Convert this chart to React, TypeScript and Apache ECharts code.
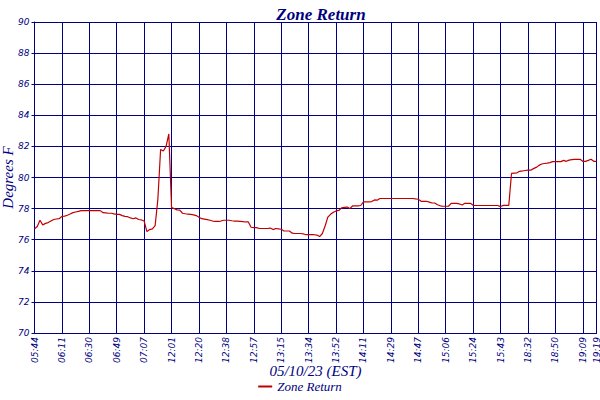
import React, { useEffect, useRef } from 'react'
import * as echarts from 'echarts'

// tick labels, one every 10 samples plus the last sample
const tickLabels = [
    '05:44', '06:11', '06:30', '06:49', '07:07', '12:01', '12:20', '12:38', '12:57', '13:15', '13:34',
    '13:52', '14:11', '14:29', '14:47', '15:06', '15:24', '15:43', '18:32', '18:50', '19:09',
]
const lastLabel = '19:19'

// zone return temperature, degrees F
const zoneReturn = [
    76.7, 76.85, 77.25, 76.95, 77.05, 77.1, 77.2, 77.3, 77.33, 77.35,
    77.5, 77.52, 77.57, 77.65, 77.74, 77.78, 77.82, 77.87, 77.87, 77.87,
    77.87, 77.87, 77.87, 77.87, 77.87, 77.74, 77.72, 77.7, 77.7, 77.66,
    77.63, 77.63, 77.55, 77.5, 77.48, 77.4, 77.35, 77.4, 77.3, 77.27,
    77.2, 76.52, 76.65, 76.7, 76.9, 78.6, 81.8, 81.7, 82.0, 82.8,
    78.06, 78.0, 77.92, 77.9, 77.7, 77.67, 77.65, 77.63, 77.6, 77.55,
    77.45, 77.35, 77.32, 77.29, 77.25, 77.2, 77.18, 77.18, 77.2, 77.25,
    77.25, 77.25, 77.22, 77.2, 77.2, 77.18, 77.16, 77.14, 77.14, 76.8,
    76.78, 76.78, 76.72, 76.72, 76.72, 76.72, 76.75, 76.65, 76.72, 76.7,
    76.67, 76.56, 76.56, 76.56, 76.42, 76.4, 76.4, 76.4, 76.38, 76.32,
    76.32, 76.32, 76.32, 76.3, 76.2, 76.4, 76.88, 77.45, 77.63, 77.76,
    77.85, 77.88, 78.05, 78.08, 78.1, 78.0, 78.17, 78.17, 78.17, 78.2,
    78.43, 78.43, 78.43, 78.45, 78.56, 78.54, 78.65, 78.65, 78.65, 78.65,
    78.65, 78.65, 78.65, 78.65, 78.65, 78.65, 78.65, 78.65, 78.65, 78.62,
    78.6, 78.47, 78.47, 78.47, 78.42, 78.36, 78.36, 78.25, 78.18, 78.15,
    78.15, 78.15, 78.34, 78.34, 78.34, 78.3, 78.23, 78.34, 78.34, 78.34,
    78.21, 78.2, 78.2, 78.2, 78.2, 78.2, 78.2, 78.2, 78.2, 78.2,
    78.13, 78.21, 78.21, 78.21, 80.26, 80.28, 80.3, 80.4, 80.42, 80.45,
    80.47, 80.47, 80.57, 80.65, 80.78, 80.87, 80.9, 80.92, 80.96, 81.02,
    81.02, 81.02, 81.02, 81.1, 81.04, 81.12, 81.15, 81.17, 81.17, 81.17,
    81.04, 81.04, 81.1, 81.17, 81.04, 81.04,
]

const NAVY = '#000080'
const LABEL_STEP = 10

const App: React.FC = () => {
    const chartRef = useRef<HTMLDivElement | null>(null)

    useEffect(() => {
        if (!chartRef.current) return
        const chart = echarts.init(chartRef.current, undefined, { renderer: 'svg' })

        const last = zoneReturn.length - 1
        const categories = zoneReturn.map((_, i) => {
            if (i === last) return lastLabel
            if (i % LABEL_STEP === 0) return tickLabels[i / LABEL_STEP]
            return 's' + i
        })
        const shown = (i: number) => i % LABEL_STEP === 0 || i === last

        chart.setOption({
            animation: false,
            title: {
                text: 'Zone Return',
                left: 316,
                top: 1,
                textAlign: 'center',
                textStyle: {
                    fontFamily: 'Liberation Serif',
                    fontStyle: 'italic',
                    fontWeight: 'bold',
                    fontSize: 17,
                    color: NAVY,
                },
            },
            legend: {
                bottom: 2,
                left: 'center',
                itemWidth: 14,
                itemHeight: 2,
                icon: 'rect',
                textStyle: {
                    fontFamily: 'Liberation Serif',
                    fontStyle: 'italic',
                    fontSize: 13,
                    color: NAVY,
                },
                data: ['Zone Return'],
            },
            grid: {
                left: 34.5,
                right: 3.5,
                top: 22,
                bottom: 67,
                containLabel: false,
                outerBoundsMode: 'none',
            },
            xAxis: {
                type: 'category',
                boundaryGap: false,
                data: categories,
                name: '05/10/23 (EST)',
                nameLocation: 'middle',
                nameGap: 30,
                nameMoveOverlap: false,
                nameTextStyle: {
                    fontFamily: 'Liberation Serif',
                    fontStyle: 'italic',
                    fontSize: 15,
                    color: NAVY,
                },
                axisLine: { lineStyle: { color: NAVY, width: 1 } },
                axisTick: { show: false },
                axisLabel: {
                    interval: (i: number) => shown(i),
                    rotate: 90,
                    margin: 4,
                    hideOverlap: false,
                    fontFamily: 'DejaVu Sans',
                    fontStyle: 'italic',
                    fontSize: 9,
                    color: NAVY,
                },
                splitLine: {
                    show: true,
                    interval: (i: number) => shown(i),
                    lineStyle: { color: NAVY, width: 1 },
                },
            },
            yAxis: {
                type: 'value',
                min: 70,
                max: 90,
                interval: 2,
                name: 'Degrees F',
                nameLocation: 'middle',
                nameGap: 19,
                nameMoveOverlap: false,
                nameTextStyle: {
                    fontFamily: 'Liberation Serif',
                    fontStyle: 'italic',
                    fontSize: 15,
                    color: NAVY,
                },
                axisLine: { show: true, lineStyle: { color: NAVY, width: 1 } },
                axisTick: { show: true, length: 3, lineStyle: { color: NAVY } },
                axisLabel: {
                    margin: 5,
                    fontFamily: 'DejaVu Sans',
                    fontStyle: 'italic',
                    fontSize: 9,
                    color: NAVY,
                },
                splitLine: { lineStyle: { color: NAVY, width: 1 } },
            },
            series: [
                {
                    name: 'Zone Return',
                    type: 'line',
                    data: zoneReturn,
                    showSymbol: false,
                    symbol: 'none',
                    itemStyle: { color: '#c00000' },
                    lineStyle: { color: '#c00000', width: 1.2 },
                },
            ],
        })

        return () => {
            chart.dispose()
        }
    }, [])

    return (
        <div
            ref={chartRef}
            style={{ position: 'fixed', left: 0, top: 0, width: '600px', height: '400px', background: '#fff' }}
        />
    )
}

export default App
